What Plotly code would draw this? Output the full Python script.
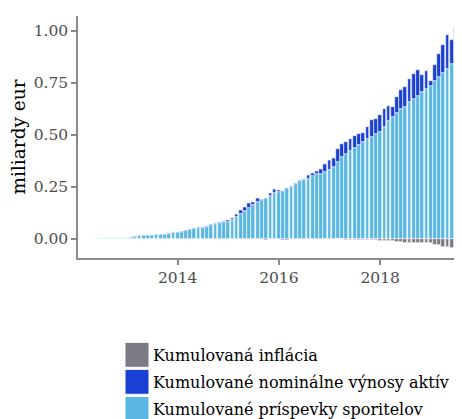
import plotly.graph_objects as go
import pandas as pd

# mesacne hodnoty, jun 2012 - jul 2019 (mld. eur)
mesiace = pd.date_range("2012-06-01", periods=86, freq="MS")

prispevky = [
    0.002, 0.002, 0.004, 0.005, 0.004, 0.004, 0.006, 0.006, 0.009, 0.011,
    0.018, 0.018, 0.019, 0.020, 0.023, 0.023, 0.024, 0.025, 0.031, 0.034,
    0.035, 0.041, 0.046, 0.050, 0.053, 0.054, 0.059, 0.066, 0.071, 0.074,
    0.079, 0.083, 0.090, 0.103, 0.120, 0.133, 0.149, 0.162, 0.176, 0.189,
    0.199, 0.207, 0.220, 0.224, 0.232, 0.245, 0.256, 0.264, 0.276, 0.283,
    0.290, 0.303, 0.311, 0.314, 0.324, 0.332, 0.345, 0.372, 0.392, 0.407,
    0.423, 0.436, 0.452, 0.465, 0.479, 0.492, 0.503, 0.516, 0.537, 0.569,
    0.588, 0.606, 0.623, 0.636, 0.657, 0.671, 0.688, 0.705, 0.721, 0.737,
    0.758, 0.777, 0.796, 0.819, 0.843, 0.864,
]

vynosy = [
    0.000, 0.000, 0.000, 0.000, 0.000, 0.000, 0.000, 0.000, 0.000, 0.001,
    0.001, 0.001, 0.000, -0.001, 0.001, 0.001, 0.001, 0.001, 0.001, 0.001,
    0.001, 0.002, 0.002, 0.002, 0.004, 0.005, 0.005, 0.006, 0.006, 0.008,
    0.008, 0.008, 0.012, 0.017, 0.021, 0.021, 0.022, 0.016, 0.023, 0.005,
    -0.004, 0.013, 0.019, 0.010, -0.004, -0.004, 0.000, 0.004, 0.009, 0.005,
    0.019, 0.014, 0.014, 0.023, 0.035, 0.045, 0.046, 0.061, 0.063, 0.061,
    0.059, 0.057, 0.053, 0.046, 0.059, 0.079, 0.074, 0.079, 0.088, 0.070,
    0.048, 0.077, 0.093, 0.095, 0.112, 0.122, 0.125, 0.083, 0.087, 0.023,
    0.080, 0.112, 0.135, 0.162, 0.114, 0.154,
]

inflacia = [
    0.000, 0.000, 0.000, 0.000, 0.000, 0.000, 0.000, 0.000, 0.000, 0.000,
    0.000, 0.000, 0.000, 0.000, 0.000, 0.000, 0.000, 0.000, 0.000, 0.000,
    0.000, 0.000, 0.000, 0.000, 0.000, 0.000, 0.000, 0.000, 0.000, 0.000,
    0.000, 0.000, 0.000, 0.000, 0.000, 0.000, 0.000, 0.000, 0.000, 0.000,
    0.000, 0.000, 0.000, 0.000, 0.000, 0.000, 0.000, 0.000, 0.000, 0.000,
    0.000, 0.000, 0.000, 0.000, 0.000, 0.000, 0.000, -0.001, -0.002, -0.003,
    -0.003, -0.004, -0.004, -0.005, -0.005, -0.006, -0.007, -0.009, -0.011, -0.011,
    -0.012, -0.016, -0.017, -0.018, -0.019, -0.020, -0.021, -0.021, -0.022, -0.022,
    -0.029, -0.030, -0.040, -0.041, -0.044, -0.045,
]

nazvy = ["Kumulovaná inflácia", "Kumulované nominálne výnosy aktív", "Kumulované príspevky sporitelov"]
farby = ["#7b7b85", "#1a3fd4", "#5ab6e2"]

pismo = "DejaVu Serif"
sirka = 27 * 24 * 3600 * 1000  # sirka stlpca v ms

fig = go.Figure()
for hodnoty, farba in [(prispevky, farby[2]), (vynosy, farby[1]), (inflacia, farby[0])]:
    fig.add_trace(go.Bar(
        x=mesiace, y=hodnoty, width=sirka,
        marker=dict(color=farba, line=dict(color="white", width=0.6)),
        showlegend=False,
    ))

# legenda pod grafom (suradnice v pixeloch stranky)
riadky_y = [(342.3, 367.3), (369.3, 394.3), (396.5, 421.5)]
for (y0, y1), nazov, farba in zip(riadky_y, nazvy, farby):
    fig.add_shape(type="rect", xref="paper", yref="paper",
                  x0=(125 - 78) / 384, x1=(149 - 78) / 384,
                  y0=(258 - y0) / 242, y1=(258 - y1) / 242,
                  fillcolor=farba, line=dict(color="white", width=1))
    fig.add_annotation(text=nazov, xref="paper", yref="paper",
                       x=(151 - 78) / 384, y=(258 - min((y0 + y1) / 2 + 1, 409)) / 242,
                       xanchor="left", yanchor="middle", showarrow=False,
                       font=dict(family=pismo, size=16, color="black"))

# stranka ma okraj 8 px, preto 454x411
fig.update_layout(
    width=454, height=411,
    margin=dict(l=70, r=0, t=8, b=161, autoexpand=False),
    barmode="relative", bargap=0,
    plot_bgcolor="white", paper_bgcolor="white",
    font=dict(family=pismo, size=15.5, color="#4d4d4d"),
)
fig.update_xaxes(
    range=["2012-01-13", "2019-08-14"], automargin=False,
    tick0="2014-01-01", dtick="M24", tickformat="%Y",
    showline=True, linecolor="#8a8a8a", linewidth=1.5,
    ticks="outside", ticklen=5, tickcolor="#8a8a8a", tickwidth=1.5,
    showgrid=False, zeroline=False,
)
fig.update_yaxes(
    range=[-0.092, 1.072], automargin=False,
    tickvals=[0, 0.25, 0.5, 0.75, 1.0], tickformat=".2f",
    title=dict(text="miliardy eur", font=dict(family=pismo, size=18.5, color="black"), standoff=3),
    showline=True, linecolor="#8a8a8a", linewidth=1.5,
    ticks="outside", ticklen=5, tickcolor="#8a8a8a", tickwidth=1.5,
    showgrid=False, zeroline=False,
)

fig.write_html("out.html")
